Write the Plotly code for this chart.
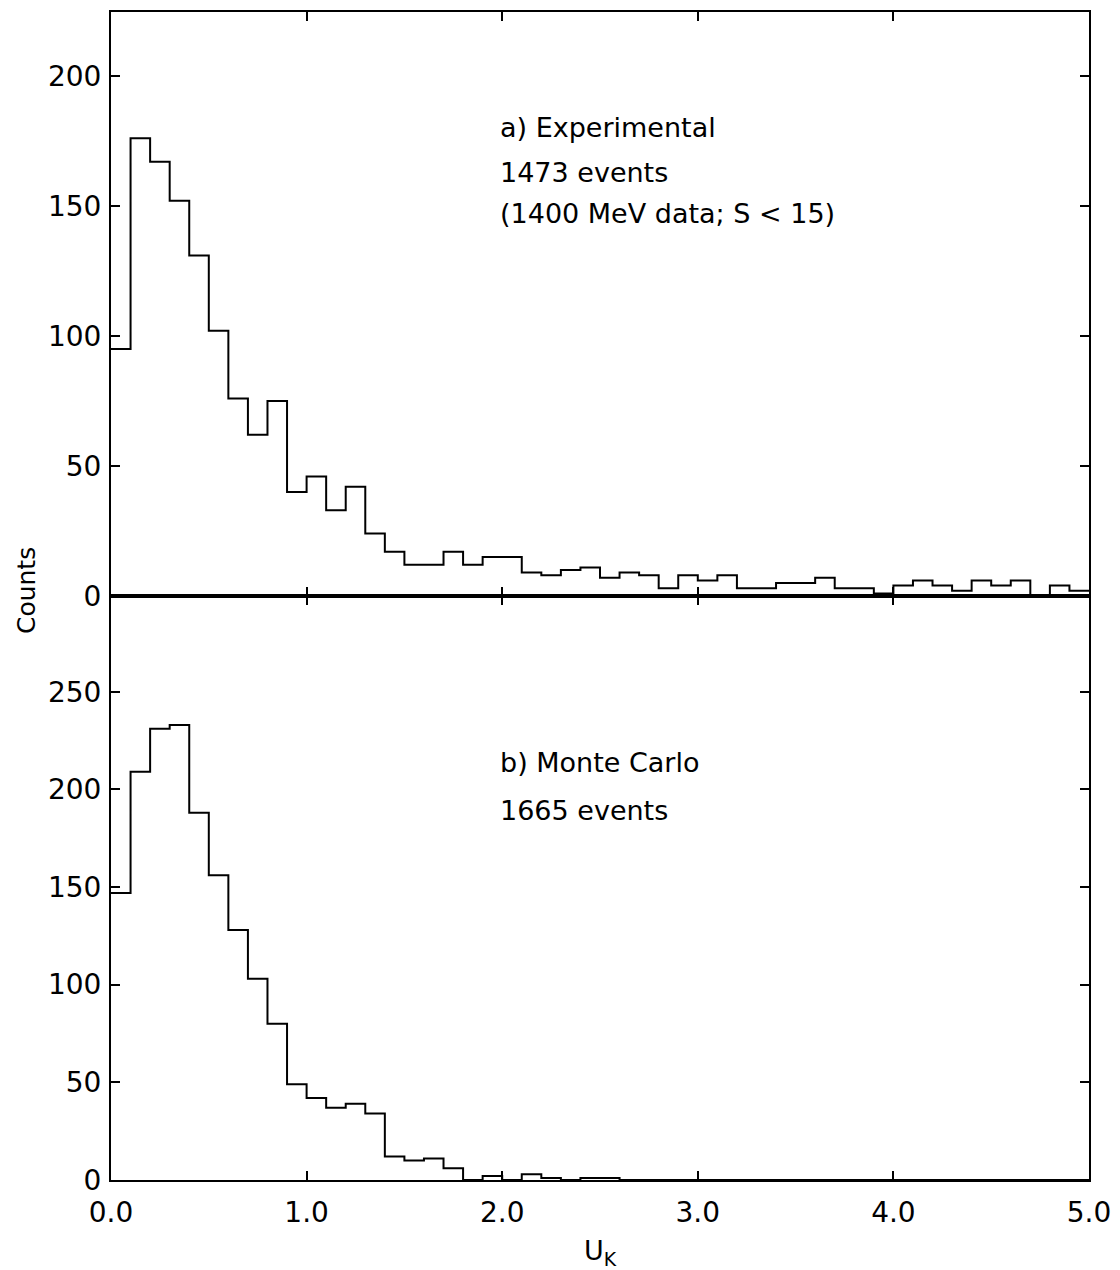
import plotly.graph_objects as go

# ---- data ----
bin_width = 0.1
experimental_counts = [95, 176, 167, 152, 131, 102, 76, 62, 75, 40,
                       46, 33, 42, 24, 17, 12, 12, 17, 12, 15,
                       15, 9, 8, 10, 11, 7, 9, 8, 3, 8,
                       6, 8, 3, 3, 5, 5, 7, 3, 3, 1,
                       4, 6, 4, 2, 6, 4, 6, 0, 4, 2]
monte_carlo_counts = [147, 209, 231, 233, 188, 156, 128, 103, 80, 49,
                      42, 37, 39, 34, 12, 10, 11, 6, 0, 2,
                      0, 3, 1, 0, 1, 1, 0, 0, 0, 0,
                      0, 0, 0, 0, 0, 0, 0, 0, 0, 0,
                      0, 0, 0, 0, 0, 0, 0, 0, 0, 0]
x_tick_vals = [0, 1, 2, 3, 4, 5]
x_tick_text = ["0.0", "1.0", "2.0", "3.0", "4.0", "5.0"]
top_y_ticks = [0, 50, 100, 150, 200]
bottom_y_ticks = [0, 50, 100, 150, 200, 250]
top_labels = ["a) Experimental", "1473 events", "(1400 MeV data; S < 15)"]
bottom_labels = ["b) Monte Carlo", "1665 events"]

FONT = "DejaVu Sans"


def step_xy(counts):
    n = len(counts)
    xs = [round(i * bin_width, 3) for i in range(n + 1)]
    ys = list(counts) + [counts[-1]]
    return xs, ys


fig = go.Figure()
xs, ys = step_xy(experimental_counts)
fig.add_trace(go.Scatter(x=xs, y=ys, mode="lines", line=dict(shape="hv", color="black", width=2),
                         xaxis="x2", yaxis="y2", showlegend=False))
xs, ys = step_xy(monte_carlo_counts)
fig.add_trace(go.Scatter(x=xs, y=ys, mode="lines", line=dict(shape="hv", color="black", width=2),
                         xaxis="x", yaxis="y", showlegend=False))

axis_common = dict(showline=True, linecolor="black", linewidth=2, mirror="ticks",
                   ticks="inside", ticklen=9, tickwidth=2, tickcolor="black",
                   showgrid=False, zeroline=False, automargin=False,
                   tickfont=dict(family=FONT, size=28, color="black"))

fig.update_layout(
    width=1120, height=1270,
    margin=dict(l=111, r=31, t=12, b=90),
    paper_bgcolor="white", plot_bgcolor="white",
    xaxis=dict(domain=[0, 1], range=[0, 5], anchor="y",
               tickvals=x_tick_vals, ticktext=x_tick_text, ticklabelstandoff=6,
               title=dict(text="U<sub>K</sub>", font=dict(family=FONT, size=27, color="black"), standoff=14),
               **axis_common),
    yaxis=dict(domain=[0, 0.5], range=[0, 299], anchor="x",
               tickvals=bottom_y_ticks, ticklabelstandoff=2, **axis_common),
    xaxis2=dict(domain=[0, 1], range=[0, 5], anchor="y2",
                tickvals=x_tick_vals, showticklabels=False, **axis_common),
    yaxis2=dict(domain=[0.5, 1], range=[0, 224.6], anchor="x2",
                tickvals=top_y_ticks, ticklabelstandoff=2, **axis_common),
)

top_y = [180, 163, 147]
for txt, yv in zip(top_labels, top_y):
    fig.add_annotation(x=1.98, y=yv, xref="x2", yref="y2", text=txt, showarrow=False,
                       xanchor="left", yanchor="middle",
                       font=dict(family=FONT, size=27, color="black"))
bottom_y = [214, 189]
for txt, yv in zip(bottom_labels, bottom_y):
    fig.add_annotation(x=1.98, y=yv, xref="x", yref="y", text=txt, showarrow=False,
                       xanchor="left", yanchor="middle",
                       font=dict(family=FONT, size=27, color="black"))

fig.add_annotation(x=-0.087, y=0.505, xref="paper", yref="paper", text="Counts",
                   textangle=-90, showarrow=False, xanchor="center", yanchor="middle",
                   font=dict(family=FONT, size=25, color="black"))

fig.write_html("out.html")
